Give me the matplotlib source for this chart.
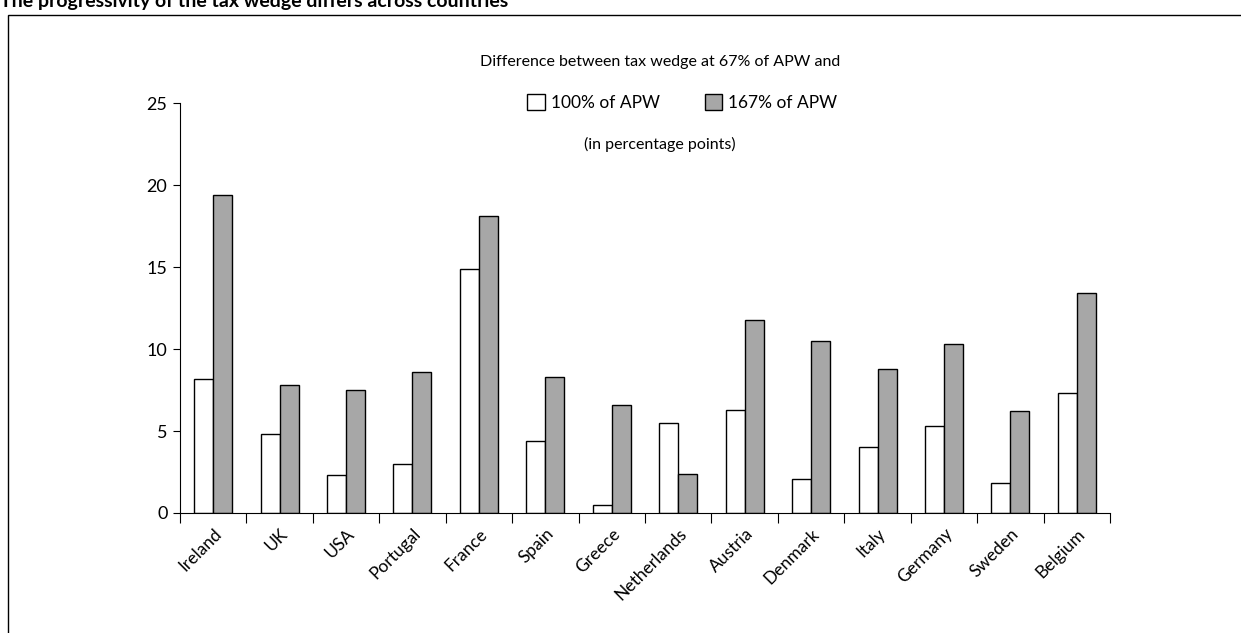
import numpy as np
import matplotlib
matplotlib.use("Agg")
import matplotlib.pyplot as plt
from matplotlib.patches import Rectangle

plt.rcParams['font.family'] = ['Lato', 'DejaVu Sans']

countries = ["Ireland", "UK", "USA", "Portugal", "France", "Spain", "Greece",
             "Netherlands", "Austria", "Denmark", "Italy", "Germany", "Sweden",
             "Belgium"]
apw_100 = [8.2, 4.8, 2.3, 3.0, 14.9, 4.4, 0.5, 5.5, 6.3, 2.1, 4.0, 5.3, 1.8, 7.3]
apw_167 = [19.4, 7.8, 7.5, 8.6, 18.1, 8.3, 6.6, 2.4, 11.8, 10.5, 8.8, 10.3, 6.2, 13.4]
series_labels = ["100% of APW", "167% of APW"]
y_ticks = [0, 5, 10, 15, 20, 25]

fig = plt.figure(figsize=(12.41, 6.33), dpi=100)
ax = fig.add_axes([0.145, 0.1896, 0.7495, 0.6474])

x = np.arange(len(countries))
w = 0.286
b1 = ax.bar(x - w / 2, apw_100, w, color="white", edgecolor="black", lw=1.0,
            label=series_labels[0])
b2 = ax.bar(x + w / 2, apw_167, w, color="#a7a7a7", edgecolor="black", lw=1.0,
            label=series_labels[1])

ax.set_xlim(-0.5, len(countries) - 0.5)
ax.set_ylim(0, 25)
ax.set_yticks(y_ticks)
ax.tick_params(axis="y", direction="out", length=5, width=0.8, labelsize=13, pad=4)

# major ticks on category boundaries, labels on category centres
ax.set_xticks(np.arange(-0.5, len(countries), 1.0))
ax.set_xticklabels([])
ax.tick_params(axis="x", which="major", direction="out", length=7, width=0.8)
ax.set_xticks(x, minor=True)
ax.set_xticklabels(countries, minor=True, rotation=45, ha="right",
                   rotation_mode="anchor", fontsize=12.5)
ax.tick_params(axis="x", which="minor", length=0, pad=9)

for s in ("top", "right"):
    ax.spines[s].set_visible(False)
for s in ("left", "bottom"):
    ax.spines[s].set_linewidth(0.8)

fig.text(0.532, 0.902, "Difference between tax wedge at 67% of APW and",
         ha="center", va="center", fontsize=11.5)
fig.text(0.532, 0.772, "(in percentage points)", ha="center", va="center",
         fontsize=11.5)
fig.legend(handles=[b1, b2], labels=series_labels, ncol=2, frameon=False,
           loc="center", bbox_to_anchor=(0.550, 0.838), fontsize=12.5,
           handlelength=1.0, handleheight=1.0, handletextpad=0.35,
           columnspacing=2.6)

# frame around the figure, cut off on the right and bottom
fig.patches.append(Rectangle((8 / 1241, -0.1), 1.2, 0.1 + (633 - 15) / 633,
                             transform=fig.transFigure, fill=False,
                             edgecolor="black", lw=1.0))
fig.text(0.0, 1 - 7 / 633, "The progressivity of the tax wedge differs across countries",
         ha="left", va="baseline", fontsize=14, fontweight="bold")

fig.savefig("out.png", dpi=100)
